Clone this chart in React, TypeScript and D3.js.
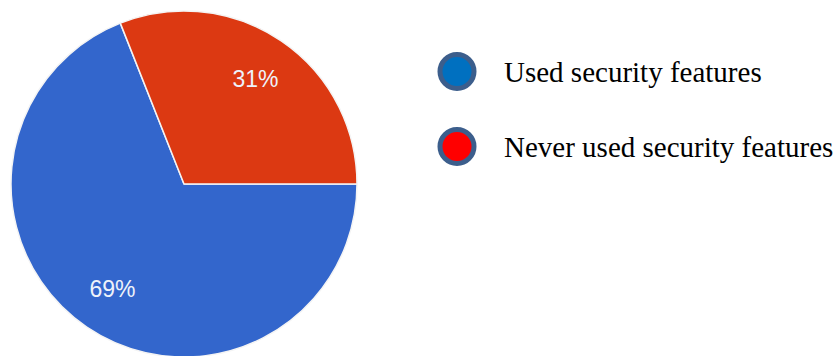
import React from "react";
import * as d3 from "d3";

const categories = ["Used security features", "Never used security features"];
const values = [69, 31];
const sliceColors = ["#3366cc", "#dc3912"];
const legendColors = ["#0070c0", "#ff0000"];

const W = 839;
const H = 356;

export default function App() {
  const cx = 184;
  const cy = 184;
  const r = 173;
  const pie = d3
    .pie<number>()
    .sort(null)
    .startAngle(Math.PI / 2)
    .endAngle(Math.PI / 2 + 2 * Math.PI)
    .value((d) => d);
  const arcs = pie(values);
  const arc = d3.arc<d3.PieArcDatum<number>>().innerRadius(0).outerRadius(r);
  const labelArc = d3
    .arc<d3.PieArcDatum<number>>()
    .innerRadius(r * 0.735)
    .outerRadius(r * 0.735);
  const total = d3.sum(values);

  const legendY = d3.scalePoint<string>().domain(categories).range([71.5, 146.5]);

  return (
    <svg
      width={W}
      height={H}
      style={{ position: "absolute", left: 0, top: 0, background: "#fff" }}
    >
      <g transform={`translate(${cx},${cy})`}>
        {arcs.map((a, i) => (
          <path
            key={i}
            d={arc(a) || ""}
            fill={sliceColors[i]}
            stroke="#f4f4f4"
            strokeWidth={1.5}
            strokeLinejoin="round"
          />
        ))}
        {arcs.map((a, i) => {
          const [x, y] = labelArc.centroid(a);
          return (
            <text
              key={"l" + i}
              x={x}
              y={y}
              textAnchor="middle"
              dominantBaseline="central"
              fill="#eef2fa"
              fontFamily="'Liberation Sans', Arial, sans-serif"
              fontSize={23}
            >
              {Math.round((values[i] / total) * 100)}%
            </text>
          );
        })}
      </g>
      {categories.map((c, i) => {
        const y = legendY(c) as number;
        return (
          <g key={c}>
            <circle
              cx={457}
              cy={y}
              r={17}
              fill={legendColors[i]}
              stroke="#3c5e8c"
              strokeWidth={5}
            />
            <text
              x={504}
              y={y + 10}
              fontFamily="'Liberation Serif', 'Times New Roman', serif"
              fontSize={29}
              fill="#000"
            >
              {c}
            </text>
          </g>
        );
      })}
    </svg>
  );
}
